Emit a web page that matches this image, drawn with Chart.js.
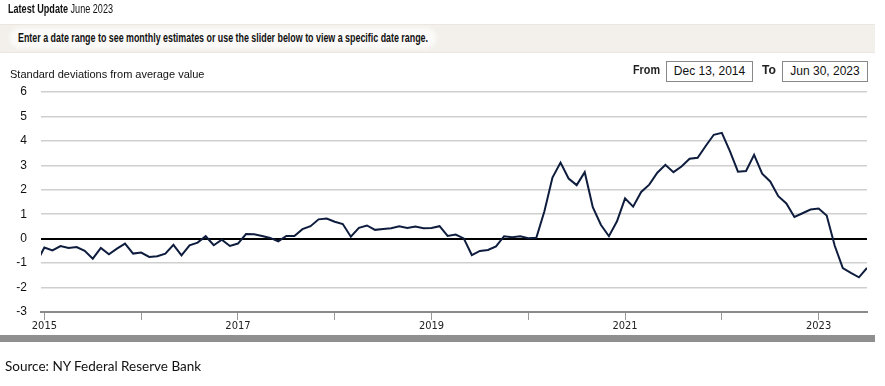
<!DOCTYPE html>
<html>
<head>
<meta charset="utf-8">
<script src="https://cdn.jsdelivr.net/npm/chart.js@4.4.1/dist/chart.umd.min.js"></script>
<style>
  html, body { margin:0; padding:0; background:#fff; }
  body { width:885px; height:386px; position:relative; overflow:hidden; }
  #c { position:absolute; left:0; top:0; }
  .fit { display:inline-block; transform-origin:0 50%; white-space:nowrap; font-family:'Liberation Sans',Arial,sans-serif; }
  #latest { position:absolute; left:8px; top:2px; font-size:12px; color:#111; }
  #band { position:absolute; left:0; top:24px; width:875px; height:27px; background:#f3f0eb; border-top:1px solid #ebe6df; border-bottom:1px solid #ebe6df; }
  #hintbg { position:absolute; left:12px; top:30px; width:422px; height:16px; background:#fbfaf8; border-radius:9px; box-shadow:0 0 4px 2px #fdfcfb; }
  #hint { position:absolute; left:18px; top:31px; font-size:12px; font-weight:bold; color:#111; }
  #ytitle { position:absolute; left:10px; top:68px; font:11px 'Liberation Sans',Arial,sans-serif; color:#111; white-space:nowrap; }
  .lbl { position:absolute; top:63px; font:bold 12px 'Liberation Sans',Arial,sans-serif; color:#222; }
  .box { position:absolute; top:61px; height:19px; border:1px solid #888; background:#fff; font:12px 'Liberation Sans',Arial,sans-serif; color:#111;
         text-align:center; line-height:19px; box-sizing:content-box; }
  #slider { position:absolute; left:0; top:335px; width:875px; height:7px; background:#8f8f8f; }
  #source { position:absolute; left:5px; top:358px; font:13.5px Lato,'Open Sans',sans-serif; color:#111; white-space:nowrap; }
</style>
</head>
<body>
<canvas id="c" width="885" height="386"></canvas>
<div id="latest" class="fit" data-w="105"><b>Latest Update</b> June 2023</div>
<div id="band"></div>
<div id="hintbg"></div>
<div id="hint" class="fit" data-w="410">Enter a date range to see monthly estimates or use the slider below to view a specific date range.</div>
<div id="ytitle">Standard deviations from average value</div>
<div class="lbl fit" data-w="27" style="left:633px;">From</div>
<div class="box" style="left:666px;width:85px;">Dec 13, 2014</div>
<div class="lbl fit" data-w="14" style="left:762px;">To</div>
<div class="box" style="left:782px;width:84px;">Jun 30, 2023</div>
<div id="slider"></div>
<div id="source">Source: NY Federal Reserve Bank</div>
<script>
// Monthly index values (month-end), standard deviations from average value
const v2014 = [-1.00, -0.36]; // Nov, Dec
const v2015 = [-0.48, -0.30, -0.38, -0.34, -0.50, -0.82, -0.38, -0.64, -0.41, -0.20, -0.61, -0.57];
const v2016 = [-0.75, -0.72, -0.61, -0.25, -0.68, -0.27, -0.16, 0.10, -0.27, -0.04, -0.30, -0.20];
const v2017 = [0.19, 0.18, 0.11, 0.03, -0.11, 0.11, 0.11, 0.39, 0.51, 0.79, 0.82, 0.69];
const v2018 = [0.60, 0.08, 0.44, 0.54, 0.36, 0.40, 0.43, 0.51, 0.44, 0.50, 0.43, 0.44];
const v2019 = [0.51, 0.11, 0.17, 0.01, -0.67, -0.50, -0.46, -0.32, 0.10, 0.06, 0.10, 0.02];
const v2020 = [0.04, 1.12, 2.50, 3.11, 2.46, 2.19, 2.72, 1.29, 0.57, 0.10, 0.71, 1.65];
const v2021 = [1.31, 1.91, 2.21, 2.70, 3.02, 2.72, 2.95, 3.27, 3.31, 3.79, 4.25, 4.33];
const v2022 = [3.58, 2.74, 2.77, 3.43, 2.66, 2.34, 1.74, 1.44, 0.89, 1.04, 1.19, 1.23];
const v2023 = [0.95, -0.29, -1.20, -1.40, -1.58, -1.20];
const yearTicks = [2015, 2016, 2017, 2018, 2019, 2020, 2021, 2022, 2023];
const labeledYears = [2015, 2017, 2019, 2021, 2023];
const yTicks = [6, 5, 4, 3, 2, 1, 0, -1, -2, -3];

// squeeze condensed header texts to their widths in the original
document.querySelectorAll('.fit').forEach(el => {
  const w = el.getBoundingClientRect().width;
  const target = parseFloat(el.dataset.w);
  el.style.transform = 'scaleX(' + (target / w) + ')';
});

const series = [
  {year: 2014, firstMonth: 11, vals: v2014},
  {year: 2015, firstMonth: 1, vals: v2015},
  {year: 2016, firstMonth: 1, vals: v2016},
  {year: 2017, firstMonth: 1, vals: v2017},
  {year: 2018, firstMonth: 1, vals: v2018},
  {year: 2019, firstMonth: 1, vals: v2019},
  {year: 2020, firstMonth: 1, vals: v2020},
  {year: 2021, firstMonth: 1, vals: v2021},
  {year: 2022, firstMonth: 1, vals: v2022},
  {year: 2023, firstMonth: 1, vals: v2023}
];
const points = [];
series.forEach(s => s.vals.forEach((v, k) => {
  const m = s.firstMonth + k; // month number, placed at month end
  points.push({x: s.year + m / 12, y: v});
}));

const narrow = "'Liberation Sans Narrow','DejaVu Sans Condensed','Liberation Sans',sans-serif";

new Chart(document.getElementById('c'), {
  type: 'line',
  data: { datasets: [{
    data: points,
    borderColor: '#0e1c3d',
    borderWidth: 2,
    pointRadius: 0,
    tension: 0,
    fill: false
  }]},
  options: {
    responsive: false,
    animation: false,
    devicePixelRatio: 1,
    layout: { padding: { top: 92, right: 18, left: 0, bottom: 0 } },
    plugins: { legend: { display: false }, tooltip: { enabled: false } },
    scales: {
      x: {
        type: 'linear',
        min: 2014.965,
        max: 2023.5,
        afterFit: s => { s.height = 74; },
        afterBuildTicks: s => { s.ticks = yearTicks.map(v => ({value: v})); },
        ticks: {
          autoSkip: false, maxRotation: 0, padding: 0,
          color: '#222',
          font: { family: narrow, size: 11 },
          callback: v => labeledYears.includes(v) ? String(v) : ''
        },
        grid: { display: true, drawOnChartArea: false, drawTicks: true, tickLength: 8, color: '#9a9a9a', lineWidth: 1 },
        border: { display: true, color: '#8a8a8a', width: 2 }
      },
      y: {
        min: -3, max: 6,
        afterFit: s => { s.width = 41; },
        afterBuildTicks: s => { s.ticks = yTicks.map(v => ({value: v})); },
        ticks: { padding: 14, color: '#111', font: { family: "'Liberation Sans',Arial,sans-serif", size: 12 } },
        grid: {
          drawTicks: false,
          color: c => c.tick && c.tick.value === 0 ? '#000' : '#cfcfcf',
          lineWidth: c => c.tick && c.tick.value === 0 ? 2 : 1.5
        },
        border: { display: false }
      }
    }
  }
});
</script>
</body>
</html>
